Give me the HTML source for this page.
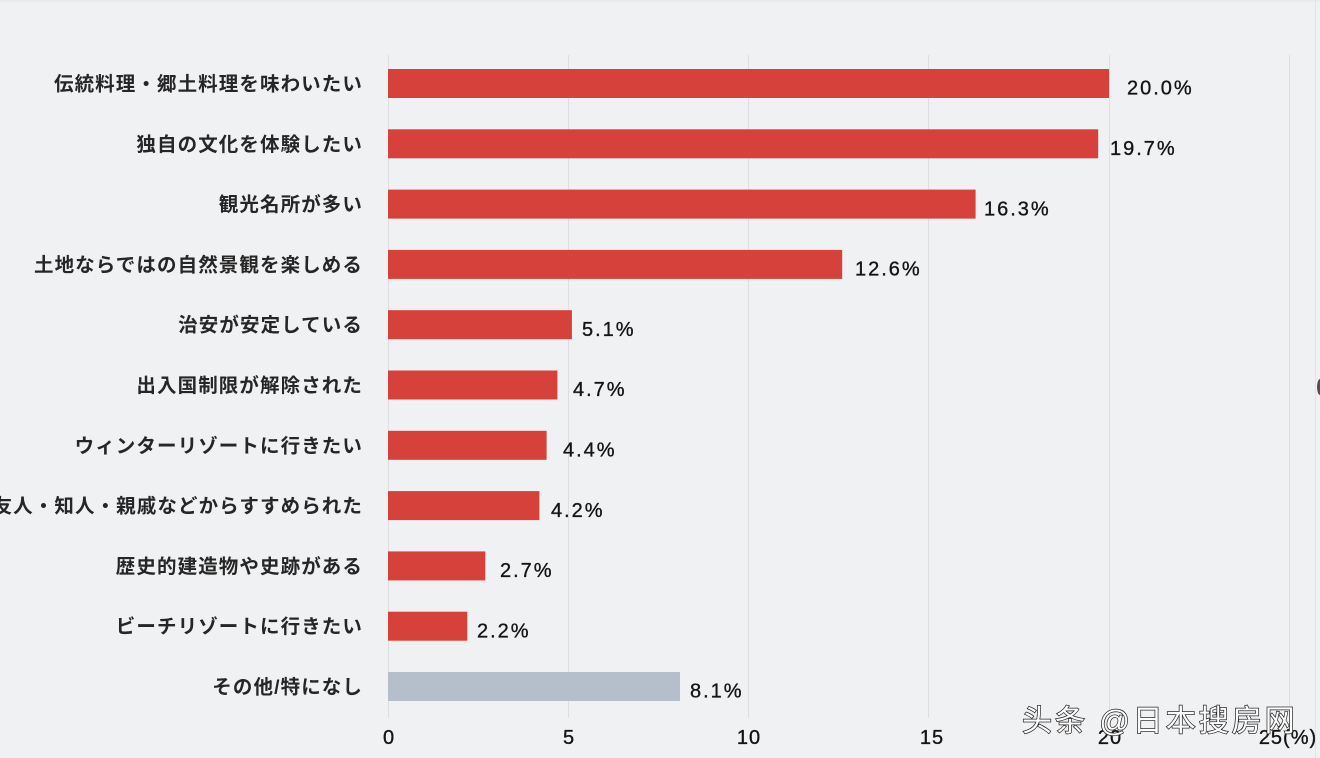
<!DOCTYPE html>
<html><head><meta charset="utf-8"><style>
html,body{margin:0;padding:0;background:#f0f1f3;}
svg{display:block;}
.cat{font-family:"Liberation Sans","Noto Sans CJK JP",sans-serif;font-size:19.5px;font-weight:bold;fill:#262626;letter-spacing:1.1px;}
.val{font-family:"Liberation Sans","Noto Sans CJK JP",sans-serif;font-size:20px;fill:#151515;stroke:#151515;stroke-width:0.35px;letter-spacing:2px;}
.tick{font-family:"Liberation Sans","Noto Sans CJK JP",sans-serif;font-size:20px;fill:#151515;stroke:#151515;stroke-width:0.35px;letter-spacing:1px;}
.wm{font-family:"Liberation Sans","Noto Sans CJK SC",sans-serif;font-size:30px;fill:#ffffff;stroke:#2a2a2a;stroke-width:1.5px;paint-order:stroke;letter-spacing:3px;}
</style></head><body>
<svg width="1320" height="758" viewBox="0 0 1320 758" xmlns="http://www.w3.org/2000/svg">
<rect x="0" y="0" width="1320" height="758" fill="#f0f1f3"/>
<line x1="0" y1="1" x2="1320" y2="1" stroke="#e2e3e6" stroke-width="1"/>
<line x1="1315.5" y1="0" x2="1315.5" y2="758" stroke="#e2e3e6" stroke-width="1"/>
<ellipse cx="1320" cy="387" rx="3" ry="8" fill="#5a4a55"/>
<g stroke="#dcdee2" stroke-width="1">
<line x1="388.5" y1="55" x2="388.5" y2="718"/>
<line x1="568.5" y1="55" x2="568.5" y2="718"/>
<line x1="748.5" y1="55" x2="748.5" y2="718"/>
<line x1="928.5" y1="55" x2="928.5" y2="718"/>
<line x1="1109.5" y1="55" x2="1109.5" y2="718"/>
<line x1="1289.5" y1="55" x2="1289.5" y2="718"/>
</g>
<g fill="#d7413c">
<rect x="388" y="69" width="721" height="29"/>
<rect x="388" y="129.3" width="710.2" height="29"/>
<rect x="388" y="189.6" width="587.6" height="29"/>
<rect x="388" y="249.9" width="454.2" height="29"/>
<rect x="388" y="310.2" width="183.9" height="29"/>
<rect x="388" y="370.5" width="169.4" height="29"/>
<rect x="388" y="430.8" width="158.6" height="29"/>
<rect x="388" y="491.1" width="151.4" height="29"/>
<rect x="388" y="551.4" width="97.3" height="29"/>
<rect x="388" y="611.7" width="79.3" height="29"/>
</g>
<rect x="388" y="672" width="292" height="29" fill="#b5bfcb"/>
<g class="cat" text-anchor="end">
<text x="363" y="90.5">伝統料理・郷土料理を味わいたい</text>
<text x="363" y="150.8">独自の文化を体験したい</text>
<text x="363" y="211.1">観光名所が多い</text>
<text x="363" y="271.4">土地ならではの自然景観を楽しめる</text>
<text x="363" y="331.7">治安が安定している</text>
<text x="363" y="392">出入国制限が解除された</text>
<text x="363" y="452.3">ウィンターリゾートに行きたい</text>
<text x="363" y="512.6">友人・知人・親戚などからすすめられた</text>
<text x="363" y="572.9">歴史的建造物や史跡がある</text>
<text x="363" y="633.2">ビーチリゾートに行きたい</text>
<text x="363" y="693.5">その他/特になし</text>
</g>
<g class="val">
<text x="1127" y="94.7">20.0%</text>
<text x="1110" y="155">19.7%</text>
<text x="984" y="215.3">16.3%</text>
<text x="855" y="275.6">12.6%</text>
<text x="582" y="335.9">5.1%</text>
<text x="573" y="396.2">4.7%</text>
<text x="563" y="456.5">4.4%</text>
<text x="551" y="516.8">4.2%</text>
<text x="500" y="577.1">2.7%</text>
<text x="477" y="637.4">2.2%</text>
<text x="690" y="697.7">8.1%</text>
</g>
<g class="tick" text-anchor="middle">
<text x="389" y="744">0</text>
<text x="569" y="744">5</text>
<text x="749" y="744">10</text>
<text x="932" y="744">15</text>
<text x="1110" y="744">20</text>
<text x="1288" y="744">25(%)</text>
</g>
<text class="wm" x="1022" y="731">头条 @日本搜房网</text>
</svg>
</body></html>
